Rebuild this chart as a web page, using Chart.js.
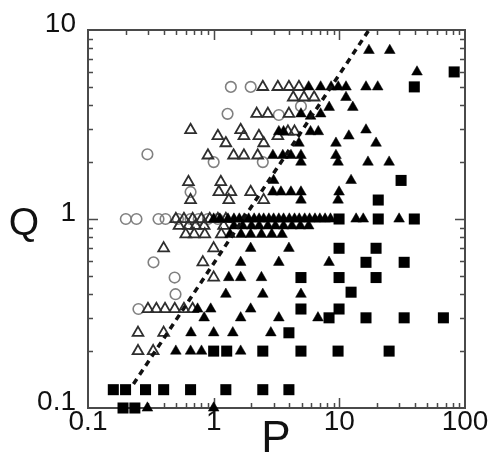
<!DOCTYPE html>
<html>
<head>
<meta charset="utf-8">
<script src="https://cdn.jsdelivr.net/npm/chart.js@4.4.1/dist/chart.umd.min.js"></script>
<style>
    html, body { margin: 0; padding: 0; background: #fff; }
</style>
</head>
<body>
<canvas id="pqChart" width="491" height="457"></canvas>
<script>
// ===================================
// P vs Q log-log scatter
// ===================================

// Axis ticks
const xTickValues = [0.1, 1, 10, 100];
const xTickLabels = ['0.1', '1', '10', '100'];
const yTickValues = [0.1, 1, 10];
const yTickLabels = ['0.1', '1', '10'];

// Series values, [P, Q]
const openCircles = [
    [1.37, 5], [1.97, 5], [1.29, 3.6], [3.3, 3.55], [4.95, 3.95],
    [0.297, 2.2], [1.0, 2.0], [2.46, 2.0], [0.655, 1.39],
    [0.2, 1], [0.243, 1], [0.364, 1], [0.414, 1], [0.52, 1], [0.655, 1], [0.76, 1], [0.9, 1], [1.08, 1],
    [0.332, 0.59], [0.489, 0.49], [0.497, 0.4], [0.252, 0.334]
];

const openTriangles = [
    [2.46, 5], [3.24, 5], [3.97, 5], [4.77, 5],
    [4.3, 4.4], [5.23, 4.4], [6.3, 4.4],
    [2.2, 3.6], [2.7, 3.6], [3.97, 3.6],
    [0.655, 2.96], [1.64, 2.96], [3.9, 2.9], [4.4, 2.9],
    [1.08, 2.75], [1.74, 2.75], [2.29, 2.75], [3.24, 2.75],
    [1.25, 2.52], [2.5, 2.52],
    [0.9, 2.17], [1.44, 2.17], [1.74, 2.17], [2.24, 2.17],
    [0.63, 1.57], [1.14, 1.57],
    [1.1, 1.39], [1.37, 1.39], [1.97, 1.39],
    [0.655, 1.26], [1.32, 1.26], [2.5, 1.26],
    [0.5, 1], [0.58, 1], [0.68, 1], [0.8, 1], [0.93, 1], [1.08, 1], [1.25, 1],
    [0.53, 0.92], [0.63, 0.92], [0.72, 0.92], [0.84, 0.92], [1.2, 0.92],
    [0.6, 0.83], [0.7, 0.83], [0.85, 0.83], [1.15, 0.83],
    [0.4, 0.7], [1.0, 0.7], [0.82, 0.59], [1.0, 0.49],
    [0.3, 0.334], [0.35, 0.334], [0.41, 0.334], [0.49, 0.334], [0.58, 0.334], [0.68, 0.334],
    [0.25, 0.25], [0.4, 0.25], [0.25, 0.2], [0.33, 0.2]
];

const filledTriangles = [
    [17.2, 7.8], [25.2, 7.8], [41.5, 6],
    [5.7, 5], [7.1, 5], [8.6, 5], [9.8, 5], [11.3, 5], [16.3, 5], [20.2, 5],
    [11.3, 4.4], [12.8, 3.9], [8.3, 3.9],
    [4.95, 3.6], [5.9, 3.5], [7.1, 3.6],
    [3.3, 2.9], [3.6, 2.9], [5.9, 2.9], [6.8, 2.9], [11.9, 2.75], [16.3, 2.96],
    [4.77, 2.52], [9.4, 2.52], [19.6, 2.52],
    [2.96, 2.17], [3.55, 2.17], [4.12, 2.17], [4.95, 2.17], [9.4, 2.17],
    [4.95, 2.0], [9.77, 2.0], [16.9, 2.0], [24.9, 2.0],
    [3.0, 1.6], [12.4, 1.6],
    [2.96, 1.39], [3.43, 1.39], [4.12, 1.39], [4.95, 1.39], [9.95, 1.39],
    [4.95, 1.26], [9.77, 1.26],
    [1.0, 1], [1.12, 1], [1.3, 1], [1.45, 1], [1.6, 1], [1.75, 1], [1.9, 1], [2.1, 1], [2.3, 1],
    [2.5, 1], [2.75, 1], [3.0, 1], [3.3, 1], [3.6, 1], [4.0, 1], [4.4, 1], [4.8, 1], [5.3, 1],
    [5.8, 1], [6.4, 1], [7.0, 1], [7.7, 1], [8.5, 1], [13.6, 1], [15.5, 1], [29.9, 1],
    [1.45, 0.92], [1.7, 0.92], [2.0, 0.92], [2.3, 0.92], [2.7, 0.92], [3.1, 0.92], [3.6, 0.92],
    [4.2, 0.92], [4.9, 0.92], [5.7, 0.92],
    [1.35, 0.83], [1.65, 0.83], [1.97, 0.83], [2.4, 0.83], [2.9, 0.83], [3.5, 0.83],
    [1.97, 0.7], [3.97, 0.7],
    [1.64, 0.59], [3.3, 0.59], [8.28, 0.59],
    [1.32, 0.49], [1.64, 0.49], [2.4, 0.49],
    [1.25, 0.4], [2.46, 0.4], [4.95, 0.4],
    [0.745, 0.334], [0.947, 0.334], [1.97, 0.334],
    [0.84, 0.3], [1.64, 0.3], [3.3, 0.3], [6.76, 0.3],
    [0.66, 0.25], [1.0, 0.25], [1.42, 0.25], [2.85, 0.25],
    [0.5, 0.2], [0.655, 0.2], [0.8, 0.2], [1.64, 0.2],
    [0.297, 0.1], [1.0, 0.1]
];

const filledSquares = [
    [82, 6], [39.5, 5],
    [31, 1.6], [20.4, 1.26],
    [9.95, 1], [20.4, 1], [39.5, 1],
    [9.95, 0.7], [19.6, 0.7],
    [16.3, 0.59], [32.8, 0.59],
    [4.95, 0.49], [9.95, 0.49], [19.6, 0.49],
    [12.4, 0.41],
    [4.95, 0.334], [9.95, 0.334],
    [8.28, 0.3], [16.3, 0.3], [32.8, 0.3], [67.3, 0.3],
    [3.97, 0.25],
    [1.0, 0.2], [1.27, 0.2], [2.46, 0.2], [4.95, 0.2], [9.77, 0.2], [24.9, 0.2],
    [0.159, 0.125], [0.199, 0.125], [0.287, 0.125], [0.4, 0.125], [0.655, 0.125],
    [1.25, 0.125], [2.46, 0.125], [3.97, 0.125],
    [0.19, 0.1], [0.236, 0.1]
];

// Dashed guide line end points
const lineP = [0.23, 17.2];
const lineQ = [0.134, 10];

const FONT = 'Liberation Sans, Arial, sans-serif';

function toPoints(pairs) {
    return pairs.map(p => ({ x: p[0], y: p[1] }));
}

// Frame, inward ticks on all sides, upright axis titles
const frameAndTicks = {
    id: 'frameAndTicks',
    beforeDatasetsDraw(chart) {
        const { ctx, chartArea: a, scales } = chart;
        const xs = scales.x, ys = scales.y;
        ctx.save();
        ctx.strokeStyle = '#4a4a4a';
        ctx.lineWidth = 1.5;
        ctx.beginPath();
        for (let d = 0.1; d < 99; d *= 10) {
            for (let m = 1; m <= 9; m++) {
                const v = d * m;
                if (v <= 0.1 + 1e-9) continue;
                const px = Math.round(xs.getPixelForValue(v)) + 0.5;
                const len = m === 1 ? 10 : 5;
                ctx.moveTo(px, a.bottom); ctx.lineTo(px, a.bottom - len);
                ctx.moveTo(px, a.top); ctx.lineTo(px, a.top + len);
            }
        }
        for (let d = 0.1; d < 9; d *= 10) {
            for (let m = 1; m <= 9; m++) {
                const v = d * m;
                if (v <= 0.1 + 1e-9) continue;
                const py = Math.round(ys.getPixelForValue(v)) + 0.5;
                const len = m === 1 ? 10 : 5;
                ctx.moveTo(a.left, py); ctx.lineTo(a.left + len, py);
                ctx.moveTo(a.right, py); ctx.lineTo(a.right - len, py);
            }
        }
        ctx.stroke();
        ctx.lineWidth = 2;
        ctx.strokeRect(a.left, a.top, a.right - a.left, a.bottom - a.top);
        ctx.restore();
    },
    afterDraw(chart) {
        const ctx = chart.ctx;
        ctx.save();
        ctx.fillStyle = '#111';
        ctx.textAlign = 'center';
        ctx.textBaseline = 'alphabetic';
        ctx.font = '39px ' + FONT;
        ctx.fillText('Q', 24, 235);
        ctx.font = '44px ' + FONT;
        ctx.fillText('P', 276, 452);
        ctx.restore();
    }
};

const ctx = document.getElementById('pqChart');

const pqChart = new Chart(ctx, {
    type: 'scatter',
    data: {
        datasets: [
            {
                label: 'line',
                type: 'line',
                data: [{ x: lineP[0], y: lineQ[0] }, { x: lineP[1], y: lineQ[1] }],
                borderColor: '#111',
                borderWidth: 3.5,
                borderDash: [6, 5],
                pointRadius: 0,
                fill: false,
                clip: false
            },
            {
                label: 'filled squares',
                data: toPoints(filledSquares),
                pointStyle: 'rect',
                pointRadius: 7.8,
                backgroundColor: '#000',
                borderColor: '#000',
                borderWidth: 0,
                clip: false
            },
            {
                label: 'filled triangles',
                data: toPoints(filledTriangles),
                pointStyle: 'triangle',
                pointRadius: 6.2,
                backgroundColor: '#000',
                borderColor: '#000',
                borderWidth: 0.5,
                clip: false
            },
            {
                label: 'open triangles',
                data: toPoints(openTriangles),
                pointStyle: 'triangle',
                pointRadius: 6.2,
                backgroundColor: 'rgba(255,255,255,0)',
                borderColor: '#2e2e2e',
                borderWidth: 1.8,
                clip: false
            },
            {
                label: 'open circles',
                data: toPoints(openCircles),
                pointStyle: 'circle',
                pointRadius: 5.3,
                backgroundColor: 'rgba(255,255,255,0)',
                borderColor: '#808080',
                borderWidth: 1.6,
                clip: false
            }
        ]
    },
    options: {
        responsive: false,
        devicePixelRatio: 1,
        animation: false,
        layout: {
            padding: { left: 0, top: 30, right: 26, bottom: 0 }
        },
        plugins: {
            legend: { display: false },
            tooltip: { enabled: false }
        },
        scales: {
            x: {
                type: 'logarithmic',
                min: 0.1,
                max: 100,
                grid: { display: false, drawTicks: false },
                border: { display: false },
                afterBuildTicks: function(axis) {
                    axis.ticks = xTickValues.map(v => ({ value: v }));
                },
                afterFit: function(axis) {
                    axis.height = 49;
                },
                ticks: {
                    autoSkip: false,
                    maxRotation: 0,
                    padding: -3,
                    color: '#111',
                    font: { family: FONT, size: 28 },
                    callback: function(value, index) {
                        return xTickLabels[index];
                    }
                }
            },
            y: {
                type: 'logarithmic',
                min: 0.1,
                max: 10,
                grid: { display: false, drawTicks: false },
                border: { display: false },
                afterBuildTicks: function(axis) {
                    axis.ticks = yTickValues.map(v => ({ value: v }));
                },
                afterFit: function(axis) {
                    axis.width = 88;
                },
                ticks: {
                    autoSkip: false,
                    padding: 12,
                    labelOffset: -6,
                    color: '#111',
                    font: { family: FONT, size: 28 },
                    callback: function(value, index) {
                        return yTickLabels[index];
                    }
                }
            }
        }
    },
    plugins: [frameAndTicks]
});
</script>
</body>
</html>
